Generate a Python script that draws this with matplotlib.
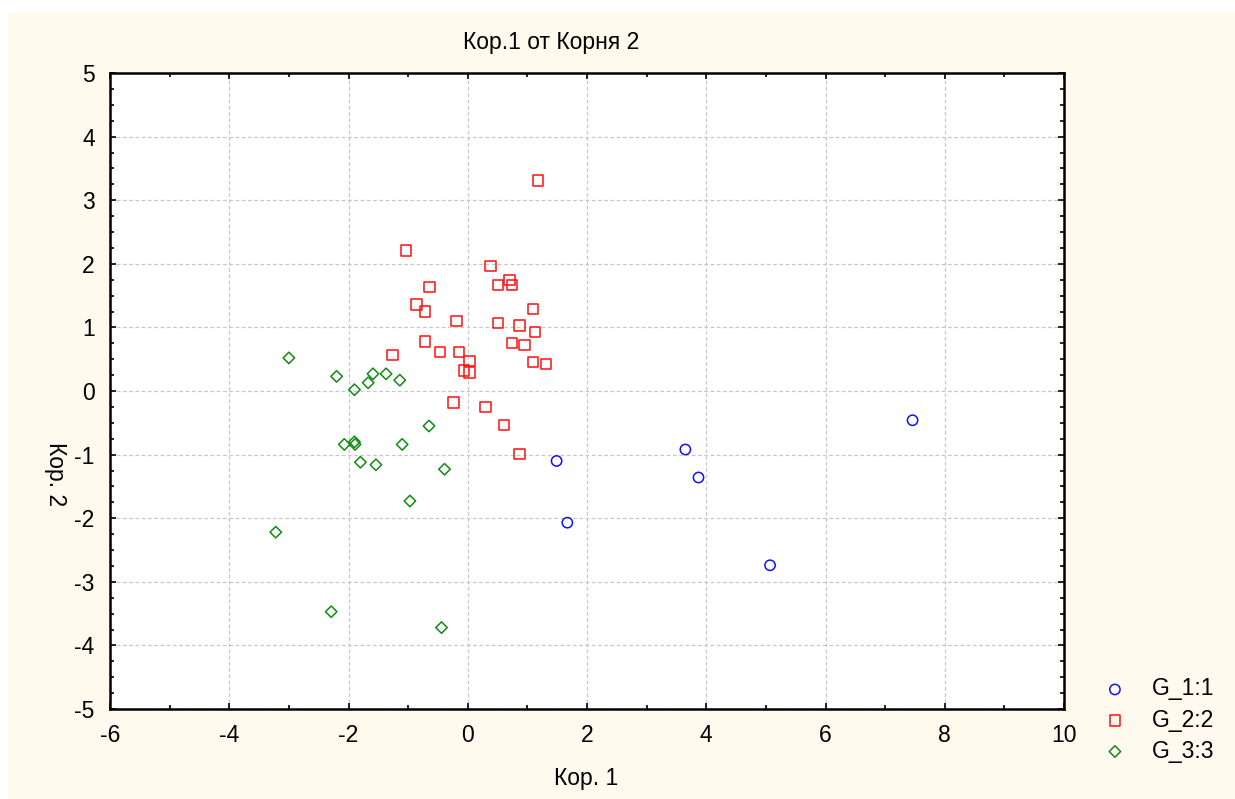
import matplotlib.pyplot as plt
from matplotlib.patches import Rectangle
from matplotlib.ticker import MultipleLocator

# Корень 1 / Корень 2 для каждой группы
g1_x = [1.49, 1.67, 3.65, 3.87, 5.07, 7.46]
g1_y = [-1.10, -2.07, -0.92, -1.36, -2.74, -0.46]

g2_x = [1.18, -1.03, 0.38, 0.70, 0.51, 0.74, -0.64, -0.86, -0.72, 1.09,
        -0.19, 0.51, 0.87, 1.13, -0.72, 0.74, 0.95, -1.26, -0.46, -0.15,
        0.03, 1.09, 1.31, -0.06, 0.03, -0.24, 0.30, 0.61, 0.87]
g2_y = [3.31, 2.21, 1.96, 1.74, 1.67, 1.67, 1.64, 1.36, 1.25, 1.29,
        1.10, 1.07, 1.03, 0.93, 0.78, 0.75, 0.72, 0.57, 0.61, 0.61,
        0.47, 0.46, 0.43, 0.32, 0.29, -0.18, -0.25, -0.54, -0.99]

g3_x = [-3.00, -2.20, -1.59, -1.37, -1.67, -1.14, -1.90, -0.65, -2.07, -1.90,
        -1.89, -1.10, -1.80, -1.54, -0.39, -0.97, -3.22, -2.29, -0.44]
g3_y = [0.52, 0.23, 0.27, 0.27, 0.13, 0.17, 0.02, -0.55, -0.84, -0.80,
        -0.84, -0.84, -1.12, -1.16, -1.23, -1.73, -2.22, -3.47, -3.72]

labels = ['G_1:1', 'G_2:2', 'G_3:3']

plt.rcParams['font.family'] = ['Liberation Sans', 'DejaVu Sans']
plt.rcParams['axes.unicode_minus'] = False
fs = 16.5

W, H = 1235, 799
fig = plt.figure(figsize=(W / 100, H / 100), dpi=100)
fig.patch.set_facecolor('white')
# кремовая подложка
fig.patches.append(Rectangle((8 / W, 0), 1, 1 - 12 / H, transform=fig.transFigure,
                             facecolor='#FFF9EE', edgecolor='none', zorder=-10))

ax = fig.add_axes([110 / W, 1 - 709 / H, (1064 - 110) / W, (709 - 73) / H])
ax.set_facecolor('white')

ax.scatter(g1_x, g1_y, marker='o', s=55, facecolors='none', edgecolors='#1010FF',
           linewidths=1.1, label=labels[0], zorder=3)
ax.scatter(g2_x, g2_y, marker='s', s=55, facecolors='none', edgecolors='#FF1010',
           linewidths=1.1, label=labels[1], zorder=3)
ax.scatter(g3_x, g3_y, marker='D', s=34, facecolors='none', edgecolors='#138A13',
           linewidths=1.1, label=labels[2], zorder=3)

ax.set_xlim(-6, 10)
ax.set_ylim(-5, 5)
ax.xaxis.set_major_locator(MultipleLocator(2))
ax.xaxis.set_minor_locator(MultipleLocator(1))
ax.yaxis.set_major_locator(MultipleLocator(1))
ax.yaxis.set_minor_locator(MultipleLocator(0.25))
ax.tick_params(which='both', direction='in', top=True, right=True,
               labelsize=fs, pad=11, width=1.2)
ax.tick_params(which='major', length=4)
ax.tick_params(which='minor', length=3)
ax.grid(True, which='major', linestyle=(0, (3, 2)), color='#C8C8C8', linewidth=0.9)
ax.set_axisbelow(True)
for sp in ax.spines.values():
    sp.set_linewidth(1.8)
    sp.set_color('black')

# подписи
fig.text(551 / W, 1 - 43 / H, 'Кор.1 от Корня 2', ha='center', va='center', fontsize=fs)
fig.text(586 / W, 1 - 779 / H, 'Кор. 1', ha='center', va='center', fontsize=fs)
fig.text(55 / W, 1 - 474 / H, 'Кор. 2', ha='center', va='center', fontsize=fs, rotation=270)

ax.legend(loc='center left', bbox_to_anchor=(1092 / W, 1 - 720 / H),
          bbox_transform=fig.transFigure, frameon=False, fontsize=fs,
          handlelength=2.0, handletextpad=0.6, labelspacing=0.35,
          borderpad=0, borderaxespad=0)

fig.savefig('out.png', dpi=100)
